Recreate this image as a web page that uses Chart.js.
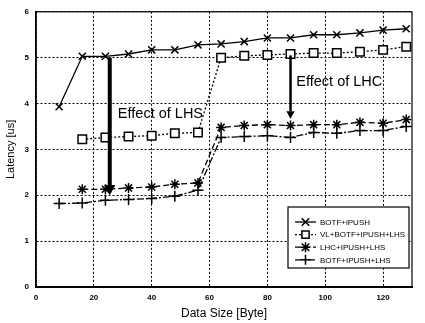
<!DOCTYPE html>
<html>
<head>
<meta charset="utf-8">
<script src="https://cdn.jsdelivr.net/npm/chart.js@4/dist/chart.umd.min.js"></script>
<style>
  html, body { margin: 0; padding: 0; background: #fff; }
  #wrap { width: 425px; height: 323px; }
</style>
</head>
<body>
<div id="wrap"><canvas id="latency"></canvas></div>
<script>
// data size in bytes (x)
var dataSize = [8, 16, 24, 32, 40, 48, 56, 64, 72, 80, 88, 96, 104, 112, 120, 128];

// latency in us
var botfIpush = [3.93, 5.03, 5.03, 5.08, 5.17, 5.17, 5.28, 5.30, 5.35, 5.43, 5.43, 5.50, 5.50, 5.54, 5.60, 5.63];
var vlBotfIpushLhs = [null, 3.22, 3.26, 3.28, 3.30, 3.35, 3.37, 5.00, 5.04, 5.06, 5.08, 5.10, 5.10, 5.13, 5.17, 5.24];
var lhcIpushLhs = [null, 2.13, 2.13, 2.16, 2.18, 2.24, 2.27, 3.48, 3.52, 3.54, 3.52, 3.54, 3.54, 3.59, 3.57, 3.65];
var botfIpushLhs = [1.82, 1.83, 1.89, 1.91, 1.93, 1.98, 2.11, 3.26, 3.28, 3.30, 3.26, 3.37, 3.35, 3.41, 3.41, 3.50];

var seriesNames = ['BOTF+iPUSH', 'VL+BOTF+IPUSH+LHS', 'LHC+IPUSH+LHS', 'BOTF+IPUSH+LHS'];

var xTicks = [0, 20, 40, 60, 80, 100, 120];
var yTicks = [0, 1, 2, 3, 4, 5, 6];

// annotations in data units
var notes = [
  { text: 'Effect of LHS', x: 25.5, from: 5.0, to: 2.0, width: 4, textX: 28.3, textY: 3.78 },
  { text: 'Effect of LHC', x: 88, from: 5.05, to: 3.67, width: 2.5, textX: 90, textY: 4.46 }
];

function pts(arr) {
  var out = [];
  arr.forEach(function (v, i) {
    if (v !== null) out.push({ x: dataSize[i], y: v });
  });
  return out;
}

var FONT = '"Liberation Sans", Arial, sans-serif';

var styles = [
  { pointStyle: 'crossRot', dash: [], radius: 5, bg: '#000' },
  { pointStyle: 'rect', dash: [2, 2], radius: 6, bg: '#fff' },
  { pointStyle: 'star', dash: [6, 3], radius: 5, bg: '#000' },
  { pointStyle: 'cross', dash: [7, 2, 2, 2], radius: 5.5, bg: '#000' }
];
var seriesData = [botfIpush, vlBotfIpushLhs, lhcIpushLhs, botfIpushLhs];

var datasets = seriesData.map(function (arr, i) {
  return {
    label: seriesNames[i],
    data: pts(arr),
    borderColor: '#000',
    backgroundColor: styles[i].bg,
    borderWidth: 1.3,
    borderDash: styles[i].dash,
    pointStyle: styles[i].pointStyle,
    pointRadius: styles[i].radius,
    pointBorderWidth: 1.5,
    pointBackgroundColor: styles[i].bg,
    pointBorderColor: '#000',
    fill: false,
    tension: 0
  };
});

// small marker for the legend box
function marker(c, style, x, y, r) {
  c.beginPath();
  if (style === 'rect') {
    var h = r * 0.72;
    c.fillStyle = '#fff';
    c.fillRect(x - h, y - h, 2 * h, 2 * h);
    c.strokeRect(x - h, y - h, 2 * h, 2 * h);
    return;
  }
  var d = r * 0.75;
  if (style === 'crossRot' || style === 'star') {
    c.moveTo(x - d, y - d); c.lineTo(x + d, y + d);
    c.moveTo(x - d, y + d); c.lineTo(x + d, y - d);
  }
  if (style === 'cross' || style === 'star') {
    c.moveTo(x - r, y); c.lineTo(x + r, y);
    c.moveTo(x, y - r); c.lineTo(x, y + r);
  }
  c.stroke();
}

var extras = {
  id: 'extras',
  afterDraw: function (chart) {
    var c = chart.ctx, a = chart.chartArea;
    var sx = chart.scales.x, sy = chart.scales.y;
    c.save();
    // frame
    c.strokeStyle = '#000';
    c.lineWidth = 1.2;
    c.setLineDash([]);
    c.strokeRect(a.left, a.top, a.right - a.left, a.bottom - a.top);

    // arrows and notes
    notes.forEach(function (n) {
      var px = sx.getPixelForValue(n.x);
      var y1 = sy.getPixelForValue(n.from);
      var y2 = sy.getPixelForValue(n.to);
      var head = n.width * 1.8 + 3;
      c.lineWidth = n.width;
      c.beginPath();
      c.moveTo(px, y1);
      c.lineTo(px, y2 - head);
      c.stroke();
      c.beginPath();
      c.moveTo(px - head * 0.55, y2 - head);
      c.lineTo(px + head * 0.55, y2 - head);
      c.lineTo(px, y2);
      c.closePath();
      c.fillStyle = '#000';
      c.fill();
      c.font = '14.5px ' + FONT;
      c.textBaseline = 'middle';
      c.textAlign = 'left';
      c.fillText(n.text, sx.getPixelForValue(n.textX), sy.getPixelForValue(n.textY));
    });

    // legend box
    var bx = a.right - 124, by = a.bottom - 80, bw = 121, bh = 61;
    c.fillStyle = '#fff';
    c.fillRect(bx, by, bw, bh);
    c.lineWidth = 1.2;
    c.strokeRect(bx, by, bw, bh);
    c.font = '8px ' + FONT;
    chart.data.datasets.forEach(function (ds, i) {
      var ly = by + 15 + i * 12.6;
      c.strokeStyle = '#000';
      c.lineWidth = 1.3;
      c.setLineDash(ds.borderDash);
      c.beginPath();
      c.moveTo(bx + 7, ly);
      c.lineTo(bx + 28, ly);
      c.stroke();
      c.setLineDash([]);
      c.lineWidth = 1.5;
      marker(c, ds.pointStyle, bx + 17.5, ly, 5);
      c.fillStyle = '#000';
      c.textAlign = 'left';
      c.textBaseline = 'middle';
      c.fillText(ds.label, bx + 32, ly + 0.5);
    });
    c.restore();
  }
};

new Chart(document.getElementById('latency'), {
  type: 'line',
  data: { datasets: datasets },
  plugins: [extras],
  options: {
    responsive: true,
    maintainAspectRatio: false,
    animation: false,
    layout: { padding: { top: 10, right: 13, left: 0, bottom: 0 } },
    plugins: {
      legend: { display: false },
      tooltip: { enabled: false }
    },
    scales: {
      x: {
        type: 'linear',
        min: 0,
        max: 130,
        afterBuildTicks: function (s) {
          s.ticks = xTicks.map(function (v) { return { value: v }; });
        },
        afterFit: function (s) { s.height = 36; },
        grid: {
          color: '#000',
          lineWidth: 1,
          drawTicks: false
        },
        border: { display: true, color: '#000', width: 2, dash: [2, 2] },
        ticks: {
          color: '#000',
          padding: 6,
          font: { family: FONT, size: 8, weight: 'bold' }
        },
        title: {
          display: true,
          text: 'Data Size [Byte]',
          color: '#000',
          padding: { top: 3, bottom: 2 },
          font: { family: FONT, size: 12 }
        }
      },
      y: {
        min: 0,
        max: 6,
        afterBuildTicks: function (s) {
          s.ticks = yTicks.map(function (v) { return { value: v }; });
        },
        afterFit: function (s) { s.width = 36; },
        grid: {
          color: '#000',
          lineWidth: 1,
          drawTicks: false
        },
        border: { display: true, color: '#000', width: 1.5, dash: [2, 2] },
        ticks: {
          color: '#000',
          padding: 7,
          font: { family: FONT, size: 8, weight: 'bold' }
        },
        title: {
          display: true,
          text: 'Latency [us]',
          color: '#000',
          padding: { top: 4, bottom: 4 },
          font: { family: FONT, size: 11 }
        }
      }
    }
  }
});
</script>
</body>
</html>
